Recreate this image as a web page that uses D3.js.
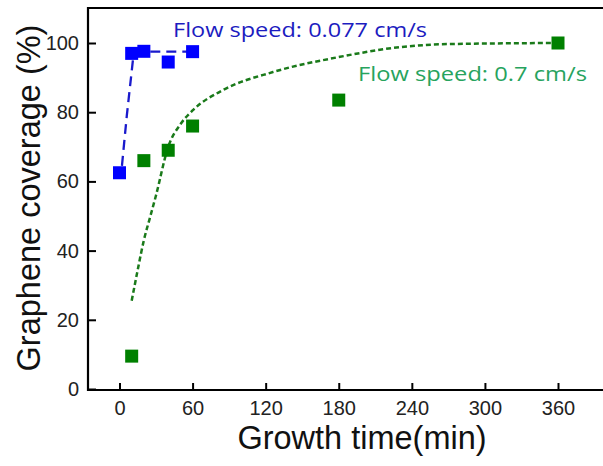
<!DOCTYPE html>
<html><head><meta charset="utf-8">
<script src="https://cdn.jsdelivr.net/npm/d3@7"></script>
<style>body{margin:0;background:#fff;}svg{display:block;}</style>
</head><body>
<script>
// Data
const blueTime = [0, 10, 20, 40, 60];
const blueCoverage = [62.5, 97, 97.6, 94.5, 97.5];
const greenTime = [10, 20, 40, 60, 180, 360];
const greenCoverage = [9.5, 66, 69, 76, 83.5, 100];
// fit curves
const blueFitTime = [2, 6, 11, 15, 20, 40, 60];
const blueFitCoverage = [64.5, 79, 95, 97.3, 97.5, 97.5, 97.5];
const greenFitTime = [10, 15, 20, 25, 30, 40, 50, 60, 85, 126, 181, 230, 271, 360];
const greenFitCoverage = [25.5, 34.5, 43, 49.5, 56, 70, 76.5, 80.5, 86.4, 91.6, 96, 98.8, 99.7, 100];
const xTicks = [0, 60, 120, 180, 240, 300, 360];
const yTicks = [0, 20, 40, 60, 80, 100];

(function () {
const W = 603, H = 466;
const svg = d3.select("body").append("svg").attr("width", W).attr("height", H);

const x = d3.scaleLinear().domain([0, 360]).range([119.5, 558]);
const y = d3.scaleLinear().domain([0, 100]).range([389, 43]);
const mLeft = 88, mTop = 8, mBottom = 390, mRight = 610;
const font = "Liberation Sans, Arial, sans-serif";

const g = svg.append("g");
g.append("path").attr("d", `M${mRight},${mTop}H${mLeft}V${mBottom}H${mRight}`)
  .attr("fill", "none").attr("stroke", "#000").attr("stroke-width", 2.2);

const xa = g.append("g").attr("transform", `translate(0,${mBottom})`)
  .call(d3.axisBottom(x).tickValues(xTicks).tickSizeInner(-7).tickSizeOuter(0).tickPadding(11));
xa.select(".domain").remove();
xa.selectAll("line").attr("stroke", "#000").attr("stroke-width", 2);
xa.selectAll("text").attr("font-family", font).attr("font-size", 20).attr("fill", "#222");

const ya = g.append("g").attr("transform", `translate(${mLeft},0)`)
  .call(d3.axisLeft(y).tickValues(yTicks).tickSizeInner(-8).tickSizeOuter(0).tickPadding(9));
ya.select(".domain").remove();
ya.selectAll("line").attr("stroke", "#000").attr("stroke-width", 2);
ya.selectAll("text").attr("font-family", font).attr("font-size", 20).attr("fill", "#222");

svg.append("text").attr("x", 362).attr("y", 449).attr("text-anchor", "middle")
  .attr("font-family", font).attr("font-size", 32.5).attr("fill", "#111")
  .text("Growth time(min)");
svg.append("text").attr("transform", "translate(40,198) rotate(-90)").attr("text-anchor", "middle")
  .attr("font-family", font).attr("font-size", 32.5).attr("fill", "#111")
  .text("Graphene coverage (%)");

const curveLine = d3.line().x(d => x(d[0])).y(d => y(d[1])).curve(d3.curveMonotoneX);
const straight = d3.line().x(d => x(d[0])).y(d => y(d[1]));
g.append("path").datum(d3.zip(greenFitTime, greenFitCoverage)).attr("d", curveLine)
  .attr("fill", "none").attr("stroke", "#1a7a1a").attr("stroke-width", 2.5).attr("stroke-dasharray", "5,3");
g.append("path").datum(d3.zip(blueFitTime, blueFitCoverage)).attr("d", straight)
  .attr("fill", "none").attr("stroke", "#1a1acc").attr("stroke-width", 2.3).attr("stroke-dasharray", "10,6");

const s = 13;
g.append("g").selectAll("rect").data(d3.zip(greenTime, greenCoverage)).join("rect")
  .attr("x", d => x(d[0]) - s/2).attr("y", d => y(d[1]) - s/2).attr("width", s).attr("height", s)
  .attr("fill", "#008000");
g.append("g").selectAll("rect").data(d3.zip(blueTime, blueCoverage)).join("rect")
  .attr("x", d => x(d[0]) - s/2).attr("y", d => y(d[1]) - s/2).attr("width", s).attr("height", s)
  .attr("fill", "#0000ff");

svg.append("text").attr("x", 173).attr("y", 37)
  .attr("font-family", "Open Sans, sans-serif").attr("font-size", 20).attr("fill", "#1c1cc0")
  .attr("textLength", 254).attr("lengthAdjust", "spacingAndGlyphs")
  .text("Flow speed: 0.077 cm/s");
svg.append("text").attr("x", 358).attr("y", 81)
  .attr("font-family", "Open Sans, sans-serif").attr("font-size", 20).attr("fill", "#27a35e")
  .attr("textLength", 229).attr("lengthAdjust", "spacingAndGlyphs")
  .text("Flow speed: 0.7 cm/s");
})();
</script>
</body></html>
